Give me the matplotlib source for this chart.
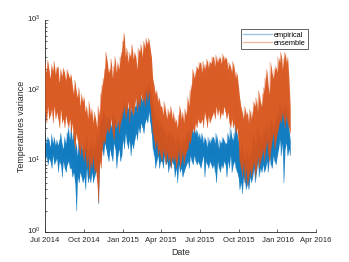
import matplotlib
matplotlib.use("Agg")
import matplotlib.pyplot as plt
import matplotlib.transforms as mtransforms
import numpy as np
import pandas as pd

# Upper / lower edges of each noisy band, every 3 days
# (one row per month, Jul 2014 .. Jan 2016)
ens_hi = [
    250, 180, 270, 200, 150, 230, 190, 260, 170, 210,
    220, 130, 200, 160, 210, 180, 140, 200, 170, 150,
    170, 120, 90, 140, 100, 80, 110, 60, 90, 70,
    80, 50, 60, 40, 70, 45, 55, 35, 50, 40,
    30, 60, 45, 90, 120, 150, 200, 350, 250, 180,
    200, 280, 150, 220, 300, 180, 250, 200, 300, 350,
    500, 650, 300, 400, 250, 350, 300, 450, 280, 350,
    300, 200, 400, 350, 450, 300, 500, 400, 550, 450,
    550, 400, 300, 150, 120, 90, 100, 70, 80, 60,
    60, 45, 70, 50, 40, 55, 45, 60, 40, 50,
    35, 40, 30, 45, 60, 40, 50, 35, 55, 45,
    80, 60, 100, 120, 200, 150, 180, 220, 200, 250,
    250, 180, 260, 200, 230, 280, 210, 260, 240, 300,
    300, 220, 320, 250, 280, 300, 240, 330, 270, 300,
    280, 200, 250, 220, 180, 260, 200, 150, 180, 120,
    80, 60, 50, 40, 60, 45, 50, 35, 55, 40,
    50, 70, 60, 80, 50, 100, 70, 60, 90, 110,
    150, 200, 120, 90, 250, 180, 150, 200, 220, 180,
    300, 250, 350, 200, 280, 350, 250, 300, 150, 60,
]
ens_lo = [
    50, 35, 60, 40, 45, 55, 35, 60, 40, 50,
    40, 30, 55, 35, 40, 30, 45, 35, 30, 40,
    25, 35, 20, 15, 25, 20, 15, 12, 18, 12,
    10, 15, 8, 12, 6, 10, 8, 12, 7, 8,
    5, 2.6, 10, 8, 15, 20, 18, 25, 30, 25,
    30, 40, 25, 20, 35, 30, 40, 25, 35, 40,
    50, 60, 40, 50, 70, 35, 60, 50, 45, 60,
    80, 50, 70, 60, 90, 70, 80, 60, 100, 70,
    100, 60, 40, 25, 20, 15, 20, 12, 15, 12,
    10, 15, 12, 9, 14, 10, 12, 8, 12, 10,
    12, 8, 10, 15, 8, 10, 14, 9, 12, 14,
    15, 20, 18, 25, 30, 25, 35, 30, 40, 35,
    35, 40, 30, 50, 40, 30, 45, 35, 40, 45,
    50, 40, 60, 45, 55, 40, 50, 45, 60, 50,
    40, 50, 35, 30, 40, 30, 35, 25, 30, 20,
    10, 8, 6, 10, 5, 8, 4.5, 6, 8, 6,
    8, 10, 6, 8, 12, 8, 10, 12, 15, 10,
    15, 20, 12, 10, 15, 20, 25, 15, 20, 25,
    30, 40, 35, 50, 40, 30, 45, 35, 30, 25,
]
emp_hi = [
    25, 18, 22, 20, 16, 24, 18, 22, 17, 20,
    17, 20, 25, 18, 15, 22, 18, 25, 30, 20,
    30, 20, 25, 15, 18, 12, 20, 15, 18, 14,
    20, 15, 25, 12, 18, 15, 20, 14, 18, 16,
    25, 20, 30, 35, 40, 50, 45, 35, 45, 40,
    40, 30, 50, 35, 45, 30, 40, 35, 45, 50,
    60, 80, 50, 70, 55, 60, 50, 70, 45, 60,
    60, 80, 70, 100, 80, 70, 90, 110, 100, 120,
    130, 100, 90, 60, 50, 40, 35, 40, 30, 35,
    35, 25, 30, 25, 20, 28, 22, 25, 20, 25,
    20, 15, 25, 18, 20, 15, 22, 18, 20, 25,
    25, 30, 20, 35, 25, 30, 25, 28, 22, 25,
    20, 25, 18, 22, 20, 16, 22, 18, 20, 22,
    22, 18, 25, 20, 15, 20, 18, 22, 20, 18,
    18, 25, 20, 30, 22, 20, 25, 35, 25, 20,
    15, 12, 18, 12, 10, 15, 12, 10, 15, 12,
    20, 25, 15, 20, 30, 20, 25, 20, 22, 30,
    25, 35, 20, 30, 40, 25, 35, 30, 40, 45,
    50, 70, 40, 60, 50, 70, 40, 60, 30, 20,
]
emp_lo = [
    10, 12, 9, 11, 10, 8, 12, 9, 10, 11,
    7, 10, 9, 6, 10, 8, 7, 9, 10, 8,
    8, 6, 7, 5, 2, 6, 5, 7, 6, 5,
    6, 4, 8, 5, 6, 5, 7, 5, 6, 7,
    8, 2.5, 10, 12, 15, 12, 18, 15, 12, 10,
    15, 12, 10, 18, 15, 8, 12, 15, 10, 12,
    20, 15, 25, 18, 15, 20, 12, 18, 15, 20,
    25, 20, 30, 25, 35, 30, 25, 35, 40, 35,
    50, 35, 25, 15, 12, 8, 10, 12, 8, 10,
    10, 8, 12, 9, 10, 7, 9, 8, 10, 9,
    6, 8, 5, 9, 7, 8, 6, 7, 8, 9,
    10, 8, 12, 10, 9, 12, 10, 9, 10, 9,
    8, 10, 12, 6, 10, 9, 8, 10, 9, 8,
    9, 7, 5, 10, 8, 7, 9, 8, 10, 9,
    6, 10, 8, 12, 7, 9, 10, 8, 7, 6,
    4, 5, 3.5, 6, 5, 4, 5, 4, 6, 5,
    6, 8, 5, 7, 10, 6, 8, 7, 9, 7,
    8, 10, 7, 12, 9, 8, 12, 10, 9, 12,
    15, 20, 12, 18, 5, 15, 18, 12, 15, 12,
]

dates = pd.date_range("2014-07-01", "2016-01-31", periods=len(ens_hi))

tick_dates = pd.to_datetime(["2014-07-01", "2014-10-01", "2015-01-01", "2015-04-01",
                             "2015-07-01", "2015-10-01", "2016-01-01", "2016-04-01"])
tick_labels = ["Jul 2014", "Oct 2014", "Jan 2015", "Apr 2015",
               "Jul 2015", "Oct 2015", "Jan 2016", "Apr 2016"]
y_ticks = [1, 10, 100, 1000]

blue = "#0072BD"
orange = "#D95319"

plt.rcParams["font.family"] = ["Liberation Sans", "DejaVu Sans"]
plt.rcParams["mathtext.fontset"] = "custom"
plt.rcParams["mathtext.rm"] = "Liberation Sans"

fig = plt.figure(figsize=(3.49, 2.62), dpi=100)
ax = fig.add_axes([0.129, 0.1145, 0.7765, 0.809])

# zig-zag between the edges for the spiky look, plus a solid core
zz_dates = pd.date_range(dates[0], dates[-1], periods=2 * len(dates))
emp_zz = np.column_stack([emp_hi, emp_lo]).ravel()
ens_zz = np.column_stack([ens_hi, ens_lo]).ravel()

ax.fill_between(dates, emp_lo, emp_hi, color=blue, alpha=0.85, linewidth=0, zorder=1)
ax.plot(zz_dates, emp_zz, color=blue, linewidth=0.6, alpha=0.5, label="empirical", zorder=2)
ax.fill_between(dates, ens_lo, ens_hi, color=orange, alpha=0.9, linewidth=0, zorder=3)
ax.plot(zz_dates, ens_zz, color=orange, linewidth=0.6, alpha=0.5, label="ensemble", zorder=4)

ax.set_yscale("log")
ax.set_ylim(1, 1000)
ax.set_yticks(y_ticks)
ax.set_xlim(tick_dates[0], tick_dates[-1])
ax.set_xticks(tick_dates)
ax.set_xticklabels(tick_labels)

ax.spines["top"].set_visible(False)
ax.spines["right"].set_visible(False)
for s in ["left", "bottom"]:
    ax.spines[s].set_color("#262626")
    ax.spines[s].set_linewidth(0.6)
ax.tick_params(which="both", direction="in", colors="#262626", labelsize=5.6, width=0.5)
ax.tick_params(which="major", length=2.5)
ax.tick_params(axis="x", which="major", pad=3.5)
ax.tick_params(axis="y", which="major", pad=3)
ax.tick_params(which="minor", length=1.5)

# nudge the y tick labels up a touch so 10^0 clears "Jul 2014"
nudge = mtransforms.ScaledTranslation(0, 1.5 / 72, fig.dpi_scale_trans)
for lbl in ax.get_yticklabels():
    lbl.set_transform(lbl.get_transform() + nudge)

ax.set_xlabel("Date", fontsize=6.4, color="#262626", labelpad=3)
ax.set_ylabel("Temperatures variance", fontsize=6.4, color="#262626", labelpad=1)

leg = ax.legend(loc="upper right", bbox_to_anchor=(0.97, 0.957), borderaxespad=0,
                fontsize=5.3, frameon=True, fancybox=False, borderpad=0.3,
                handlelength=3.9, handletextpad=0.3, labelspacing=0.15, framealpha=1)
leg.get_frame().set_edgecolor("#262626")
leg.get_frame().set_linewidth(0.5)
for line in leg.get_lines():
    line.set_alpha(0.4)
    line.set_linewidth(1.0)

fig.savefig("out.png", dpi=100)
